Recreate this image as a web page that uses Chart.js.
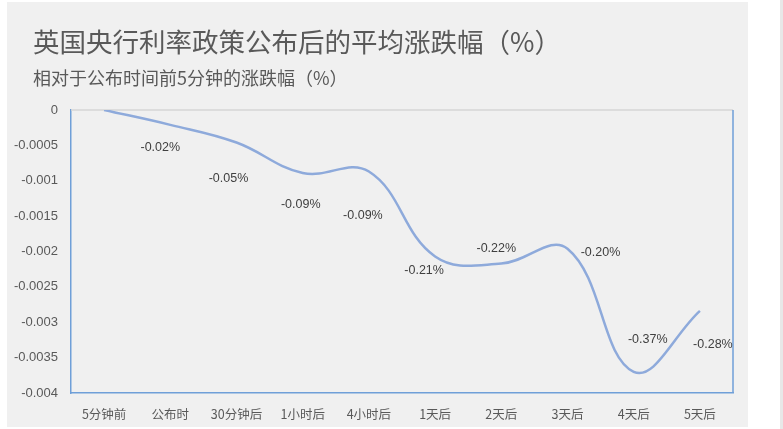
<!DOCTYPE html>
<html><head><meta charset="utf-8">
<script src="https://cdn.jsdelivr.net/npm/chart.js@4"></script>
<style>
html,body{margin:0;padding:0;background:#fff;width:783px;height:429px;overflow:hidden;}
#wrap{position:absolute;left:7px;top:2px;width:741px;height:425px;background:#f0f0f0;}
#edge{position:absolute;left:780px;top:0;width:3px;height:429px;background:#e8e8e8;}
</style></head><body>
<div id="wrap"><canvas id="c" width="741" height="425"></canvas></div>
<div id="edge"></div>
<script>
const categories = ['5分钟前','公布时','30分钟后','1小时后','4小时后','1天后','2天后','3天后','4天后','5天后'];
const values = [0, -0.00021, -0.00046, -0.00089, -0.00087, -0.00207, -0.00217, -0.00196, -0.0037, -0.00284];
const dataLabels = ['', '-0.02%', '-0.05%', '-0.09%', '-0.09%', '-0.21%', '-0.22%', '-0.20%', '-0.37%', '-0.28%'];
const yMin = -0.004, yMax = 0, yStep = 0.0005;
const titleText = '英国央行利率政策公布后的平均涨跌幅（%）';
const subtitleText = '相对于公布时间前5分钟的涨跌幅（%）';

const BLUE = '#6f9fd8';
const TEXT = '#595959';
const CJK = '"Noto Sans CJK SC", sans-serif';

const headerPlugin = {
  id: 'header',
  afterDraw(chart, args, opts) {
    const ctx = chart.ctx;
    ctx.save();
    ctx.fillStyle = TEXT;
    ctx.textAlign = 'left';
    ctx.textBaseline = 'middle';
    ctx.font = '26.5px ' + CJK;
    ctx.fillText(titleText, opts.x, opts.titleY);
    ctx.font = '18px ' + CJK;
    ctx.fillText(subtitleText, opts.x, opts.subY);
    ctx.restore();
  }
};

const labelPlugin = {
  id: 'pointLabels',
  afterDatasetsDraw(chart, args, opts) {
    const ctx = chart.ctx;
    const meta = chart.getDatasetMeta(0);
    ctx.save();
    ctx.font = opts.font;
    ctx.fillStyle = opts.color;
    ctx.textAlign = 'center';
    ctx.textBaseline = 'middle';
    meta.data.forEach((pt, i) => {
      const t = dataLabels[i];
      if (!t) return;
      const off = opts.offsets[i] || [0, 0];
      ctx.fillText(t, pt.x + off[0], pt.y + off[1]);
    });
    ctx.restore();
  }
};

const framePlugin = {
  id: 'frame',
  beforeDatasetsDraw(chart) {
    const {ctx, chartArea: a} = chart;
    ctx.save();
    ctx.lineWidth = 1.5;
    ctx.strokeStyle = '#d6d6d6';
    ctx.beginPath(); ctx.moveTo(a.left, a.top); ctx.lineTo(a.right, a.top); ctx.stroke();
    ctx.strokeStyle = BLUE;
    ctx.beginPath(); ctx.moveTo(a.right, a.top); ctx.lineTo(a.right, a.bottom); ctx.stroke();
    ctx.restore();
  }
};

new Chart(document.getElementById('c'), {
  type: 'line',
  data: {
    labels: categories,
    datasets: [{
      data: values,
      borderColor: '#8eaadb',
      borderWidth: 2.5,
      pointRadius: 0,
      tension: 0.4,
      fill: false
    }]
  },
  options: {
    responsive: false,
    animation: false,
    layout: { padding: { left: 0, right: 15, top: 108, bottom: 0 } },
    plugins: {
      legend: { display: false },
      tooltip: { enabled: false },
      title: { display: false },
      header: { x: 26, titleY: 40, subY: 76 },
      pointLabels: {
        font: '12.5px "Liberation Sans", Arial, sans-serif',
        color: '#404040',
        offsets: [[0,0],[-10,23],[-8,36],[-2,32],[-6,44],[-11,14],[-5,-15],[33,4],[14,-32],[13,34]]
      }
    },
    scales: {
      x: {
        offset: true,
        grid: { display: false },
        border: { display: true, color: BLUE, width: 1.5 },
        ticks: { color: TEXT, padding: 6, maxRotation: 0, autoSkip: false,
          font: { family: CJK, size: 12.5 } },
        afterFit: s => { s.height = 34; }
      },
      y: {
        min: yMin, max: yMax,
        grid: { display: false },
        border: { display: true, color: BLUE, width: 1.5 },
        ticks: { stepSize: yStep, color: TEXT, padding: 5,
          font: { family: '"Liberation Sans", Arial, sans-serif', size: 13 },
          callback: v => String(Math.round(v * 10000) / 10000) },
        afterFit: s => { s.width = 64; }
      }
    }
  },
  plugins: [framePlugin, labelPlugin, headerPlugin]
});
</script>
</body></html>
